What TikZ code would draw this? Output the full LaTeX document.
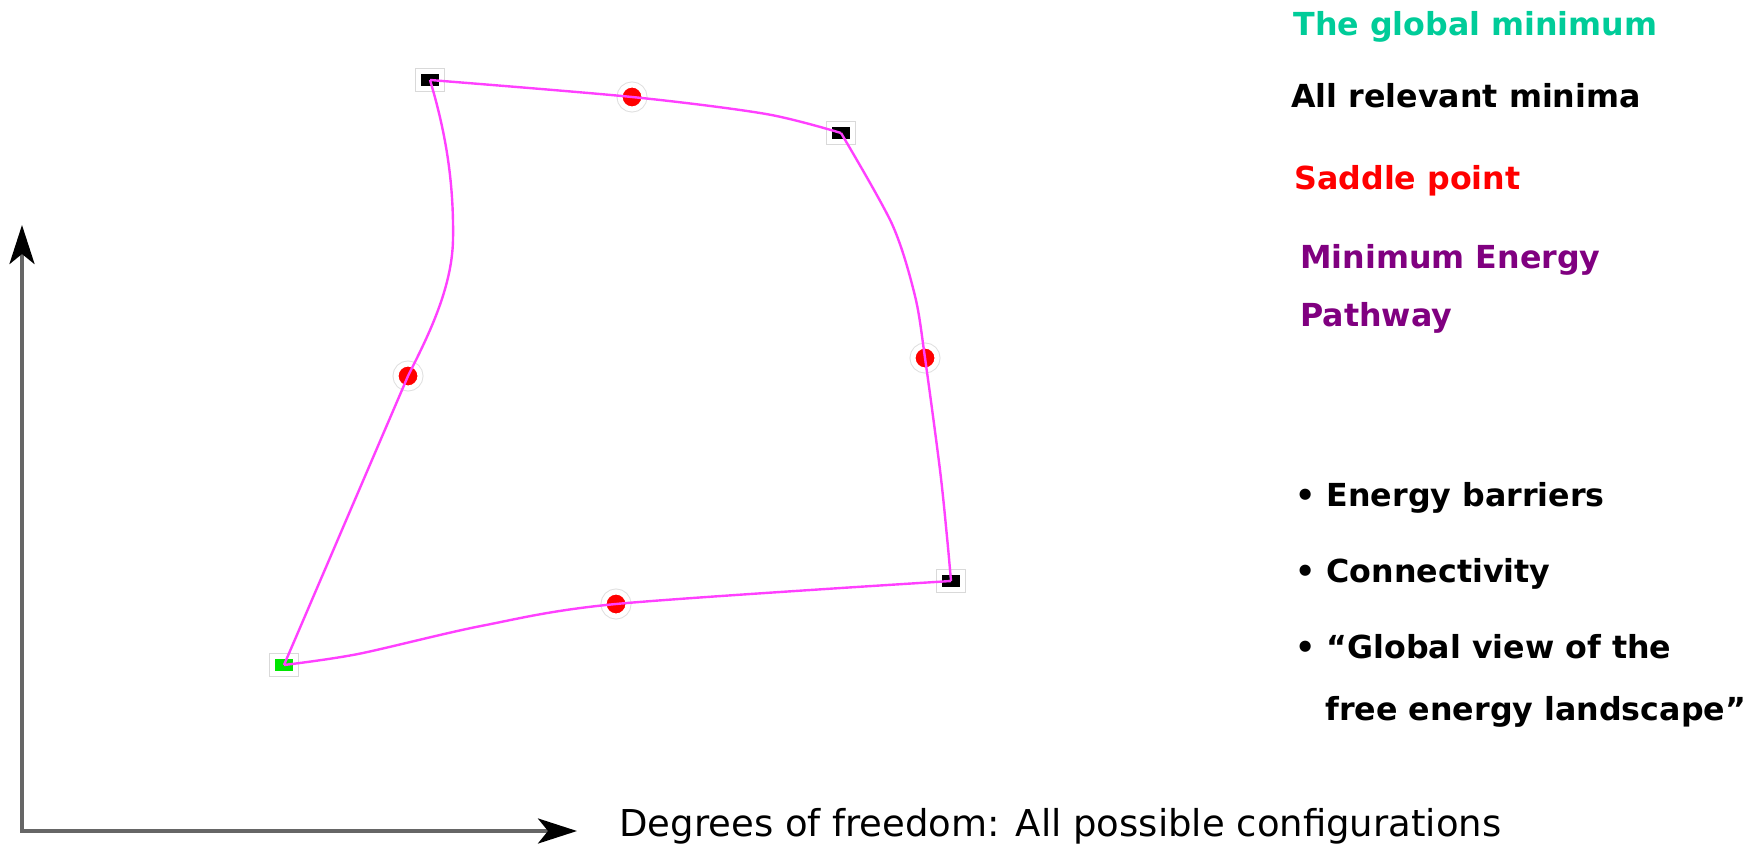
\documentclass[tikz,border=0pt]{standalone}
\usepackage{fontspec}
\setmainfont{DejaVu Sans}
\usepackage{xcolor}
\usepackage{tikz}
\usetikzlibrary{arrows.meta}

\definecolor{mepink}{RGB}{255,64,255}
\definecolor{globgreen}{RGB}{0,204,153}
\definecolor{mepurple}{RGB}{128,0,128}
\definecolor{minigreen}{RGB}{0,230,0}

\begin{document}
\begin{tikzpicture}[
  x=0.5pt, y=-0.5pt,
  minim/.style = {rectangle, fill=black, draw=white, line width=2.4pt, inner sep=0pt,
                  minimum width=11.4pt, minimum height=8.4pt,
                  preaction={draw=black!15, line width=3.4pt}},
  glob/.style  = {minim, fill=minigreen},
  sadd/.style  = {circle, fill=red, draw=white, line width=2.5pt, inner sep=0pt,
                  minimum size=12pt, preaction={draw=black!12, line width=3.5pt}},
  mep/.style   = {draw=mepink, line width=1.2pt, line join=round},
  axis/.style  = {draw=black!60, line width=2pt,
                  {Stealth[length=19.5pt, width=12.5pt, inset=5pt, color=black]}-{Stealth[length=19.5pt, width=12.5pt, inset=5pt, color=black]}},
  key/.style   = {anchor=base west, inner sep=0pt, font=\fontsize{15.85}{19}\selectfont\bfseries},
  lbl/.style   = {anchor=base west, inner sep=0pt, font=\fontsize{18.5}{22}\selectfont}
]
\useasboundingbox (0,0) rectangle (1754,845);

% ---- axes -----------------------------------------------------------------
\coordinate (origin) at (22,831);
\coordinate (ytip)   at (22,225);
\coordinate (xtip)   at (577,831);
\draw[axis] (ytip) -- (origin) -- (xtip);

\node[lbl] (dof) at (619,836) {Degrees of freedom: All possible configurations};

% ---- minima and saddle points ----------------------------------------------
\node[minim] (tl) at (430,80)  {};
\node[minim] (tr) at (841,133) {};
\node[minim] (br) at (951,581) {};
\node[glob]  (gm) at (284,665) {};

\node[sadd] (st) at (632,97)  {};
\node[sadd] (sr) at (925,358) {};
\node[sadd] (sb) at (616,604) {};
\node[sadd] (sl) at (408,376) {};

% ---- minimum energy pathways ----------------------------------------------
\draw[mep] plot[smooth, tension=0.5] coordinates
  {(tl.center) (st.center) (766,114) (tr.center)};
\draw[mep] (tl.center) .. controls (445,130) and (454,180) .. (453,240)
  .. controls (452,290) and (426,340) .. (sl.center) -- (gm.center);
\draw[mep] plot[smooth, tension=0.5] coordinates
  {(tr.center) (892,224) (915,296) (sr.center) (940,470) (947,537) (br.center)};
\draw[mep] plot[smooth, tension=0.5] coordinates
  {(gm.center) (358,654) (481,626) (sb.center) (br.center)};

% ---- legend ---------------------------------------------------------------
\node[key, text=globgreen] (kglob) at (1293,36)  {The global minimum};
\node[key]                 (kmin)  at (1291,108) {All relevant minima};
\node[key, text=red]       (ksad)  at (1294,190) {Saddle point};
\node[key, text=mepurple]  (kmepa) at (1300,268) {Minimum Energy};
\node[key, text=mepurple]  (kmepb) at (1300,326) {Pathway};

% ---- what the pathways give -----------------------------------------------
\node[key] (bbar)  at (1295,506) {• Energy barriers};
\node[key] (bcon)  at (1295,582) {• Connectivity};
\node[key] (bview) at (1295,658) {• “Global view of the};
\node[key] (bland) at (1325,720) {free energy landscape”};

\end{tikzpicture}
\end{document}
